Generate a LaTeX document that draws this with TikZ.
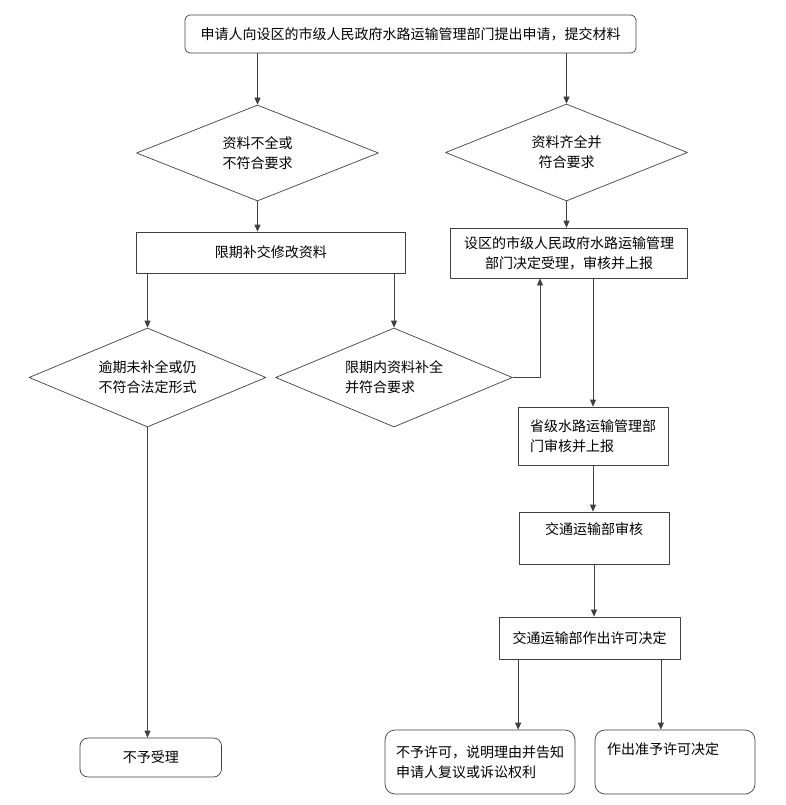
\documentclass[tikz,border=0pt]{standalone}
\usepackage{fontspec}
\newfontfamily\cjk{Noto Sans CJK SC}
\usetikzlibrary{shapes.geometric,arrows.meta}
\begin{document}
\begin{tikzpicture}[x=1pt, y=-1pt, font=\cjk\fontsize{14}{20}\selectfont, line join=round, >={Triangle[length=7pt,width=6pt]},
 box/.style={draw=black!75, line width=.7pt, inner sep=2pt},
 rbox/.style={box, rounded corners=#1},
 dia/.style={diamond, draw=black!75, line width=.7pt, inner sep=0pt, aspect=2.4},
 link/.style={->, draw=black!75, line width=.7pt}]
 \fill[white] (0,0) rectangle (786,805);
 \useasboundingbox (0,0) rectangle (786,805);
 \node[rbox=5, minimum width=451, minimum height=38] (apply) at (410.5,34) {申请人向设区的市级人民政府水路运输管理部门提出申请，提交材料};
 \node[dia, minimum width=242, minimum height=96, align=center] (lack) at (257.5,153) {资料不全或\\不符合要求};
 \node[dia, minimum width=242, minimum height=97, align=center] (full) at (566.5,152.5) {资料齐全并\\符合要求};
 \node[box, minimum width=269.5, minimum height=41] (supp) at (270.75,252.5) {限期补交修改资料};
 \node[box, minimum width=237, minimum height=50, align=center] (accept) at (569,253) {设区的市级人民政府水路运输管理\\部门决定受理，审核并上报};
 \node[dia, minimum width=237, minimum height=99, align=left] (late) at (147.5,377.5) {逾期未补全或仍\\不符合法定形式};
 \node[dia, minimum width=237, minimum height=99, align=left] (intime) at (394,377.5) {限期内资料补全\\并符合要求};
 \node[box, minimum width=150, minimum height=58, align=left] (prov) at (593,436) {省级水路运输管理部\\门审核并上报};
 \node[box, minimum width=150, minimum height=52, text height=12pt, text depth=20pt] (mot) at (594,538) {交通运输部审核};
 \node[box, minimum width=181, minimum height=42] (decide) at (589.5,638) {交通运输部作出许可决定};
 \node[rbox=8, minimum width=141.5, minimum height=39] (reject) at (150.75,757.5) {不予受理};
 \node[rbox=10, minimum width=190, minimum height=64, align=left] (deny) at (480,762) {不予许可，说明理由并告知\\申请人复议或诉讼权利};
 \node[rbox=10, minimum width=160, minimum height=64, text width=136pt, inner xsep=12pt, align=left, text height=12pt, text depth=28pt] (grant) at (675,762) {作出准予许可决定};
 \coordinate (decL) at ([xshift=19.5pt]decide.south west);
 \coordinate (decR) at ([xshift=-19.5pt]decide.south east);
 \draw[link] (apply.south -| lack) -- (lack.north);
 \draw[link] (apply.south -| full) -- (full.north);
 \draw[link] (lack.south) -- (supp.north -| lack);
 \draw[link] (full.south) -- (accept.north -| full);
 \draw[link] (supp.south -| late) -- (late.north);
 \draw[link] (supp.south -| intime) -- (intime.north);
 \draw[link] (late.south) -- (reject.north -| late);
 \draw[link] (intime.east) -| ([xshift=-29pt]accept.south);
 \draw[link] (accept.south -| prov) -- (prov.north);
 \draw[link] (prov.south) -- (mot.north -| prov);
 \draw[link] (mot.south) -- (decide.north -| mot);
 \draw[link] (decL) -- (decL |- deny.north);
 \draw[link] (decR) -- (decR |- grant.north);
\end{tikzpicture}
\end{document}
